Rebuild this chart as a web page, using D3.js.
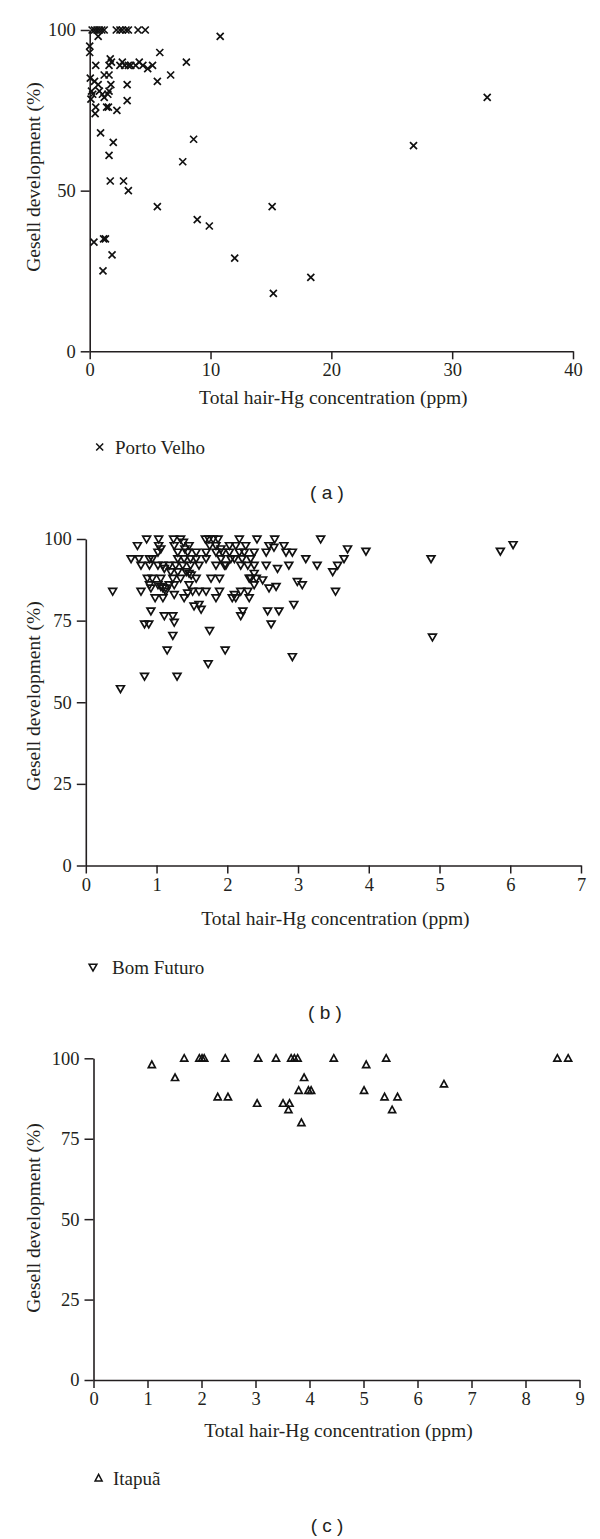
<!DOCTYPE html>
<html><head><meta charset="utf-8">
<script src="https://cdn.jsdelivr.net/npm/d3@7"></script>
<style>
html,body{margin:0;padding:0;background:#fff;}
svg{display:block;}
</style></head>
<body>
<svg id="chart" width="600" height="1539"></svg>
<script>
// ---------- data ----------
const portoVelho = [
 [0.2,100],[0.4,100],[0.6,100],[0.8,100],[1.0,100],[1.2,100],[2.2,100],[2.5,100],[2.7,100],[3.0,100],[3.2,100],[4.0,100],[4.6,100],
 [0.7,98],[10.8,98],[0,95],[0,93],[5.8,93],
 [1.7,91],[1.8,90],[1.6,89],[0.5,89],
 [2.5,89],[2.7,90],[2.9,89],[3.2,89],[3.4,89],[3.8,89],[4.1,90],[4.4,89],[4.8,88],[5.2,89],
 [8.0,90],[6.7,86],[5.6,84],
 [0.05,85],[0.4,84],[0.7,83],[1.2,86],[1.6,86],[1.75,83],[3.1,83],[0.15,81],[0.8,81],[1.05,80],[1.2,79],[1.5,80],[1.6,81],[0.25,80],[0.1,78.5],[3.1,78],[0.5,76],[1.4,76],[1.55,76],[2.25,75],[0.45,74],
 [0.9,68],[1.95,65],[1.6,61],[8.6,66],[7.7,59],[26.8,64],[32.9,79],[1.7,53],[2.8,53],[3.2,50],[5.6,45],[15.1,45],[8.9,41],[9.9,39],
 [0.35,34],[1.15,35],[1.3,35],[1.85,30],[12.0,29],[1.1,25],[18.3,23],[15.2,18]
];
const bomFuturo = [
 [0.86,100],[1.03,100],[1.24,100],[1.34,100],[1.38,99],[1.69,100],[1.74,100],[1.80,100],[1.87,100],[2.17,100],[2.42,100],[2.67,100],[3.32,100],
 [0.73,98],[1.03,98],[1.06,97],[1.25,98],[1.4,97],[1.46,98],[1.75,98],[1.84,98],[1.91,97],[2.03,98],[2.12,98],[2.26,98],[2.59,98],[2.66,97.5],[2.8,98],[3.7,97],[3.96,96.3],[5.86,96.3],[6.04,98.3],
 [1.02,96],[1.3,96],[1.44,96],[1.56,96],[1.7,96],[1.84,96],[1.93,96],[2.03,96],[2.17,96],[2.24,96],[2.38,96],[2.55,96],[2.83,96],[2.92,96],
 [0.64,94],[0.75,94],[0.9,94],[0.94,94],[1.3,94],[1.39,94],[1.48,94],[1.56,94],[1.7,94],[1.91,94],[2.05,94],[2.1,94],[2.21,94],[2.33,94],[3.11,94],[3.65,94],[4.88,94],
 [1.96,92],[2.29,92],[0.78,92],[0.9,92],[1.02,92],[1.09,92],[1.18,92],[1.27,92],[1.37,92],[1.48,92],[1.6,92],[1.84,92],[1.98,92],[2.19,92],[2.38,92],[2.55,92],[2.87,92],[3.27,92],[3.56,92],[2.71,91],
 [1.11,91],[1.2,90],[1.3,90],[1.42,90],[1.49,89],[1.46,89.5],[2.38,89.5],[3.49,90],
 [0.87,88],[0.94,88],[1.06,88],[1.23,88],[1.34,88],[1.56,88],[1.77,88],[1.89,88],[2.31,88],[2.33,88],[2.41,88],[2.5,87.5],[2.99,87],
 [0.9,86],[1.02,86],[1.06,85.5],[1.09,85],[1.18,86],[1.25,86],[1.46,86],[0.92,85],[1.13,85],[2.38,86],[2.69,85.5],[2.59,85],[3.06,86],
 [0.38,84],[0.78,84],[1.13,84],[1.25,83],[1.44,83.5],[1.51,84],[1.6,84],[1.7,84],[1.89,84],[2.1,83],[2.19,84],[2.29,84],[3.53,84],
 [0.98,82],[1.09,82],[1.39,82],[1.84,82],[2.07,82],[2.12,82],[2.31,82],
 [1.53,79.5],[1.6,80],[1.63,78.5],[2.94,80],
 [0.92,78],[2.22,78],[2.19,76.5],[2.57,78],[2.73,78],
 [1.11,76.5],[1.23,76.5],[1.25,74.5],[0.83,74],[0.89,74],[2.62,74],[1.23,70.5],[1.75,72],[4.9,70],
 [1.15,66],[1.97,66],[2.92,64],[1.73,61.8],[0.83,58],[1.29,58],[0.49,54.2]
];
const itapua = [
 [1.08,98],[1.68,100],[1.96,100],[2.01,100],[2.05,100],[2.44,100],[3.05,100],[3.38,100],[3.66,100],[3.72,100],[3.78,100],[4.45,100],
 [1.51,94],[2.3,88],[2.49,88],[3.03,86],[3.51,86],[3.63,86],[3.61,84],[3.9,94],[3.8,90],[3.98,90],[4.03,90],[3.85,80],
 [5.05,98],[5.42,100],[5.01,90],[5.39,88],[5.63,88],[5.53,84],[6.49,92],[8.59,100],[8.79,100]
];
const seriesNames = ["Porto Velho","Bom Futuro","Itapuã"];
const captions = ["( a )","( b )","( c )"];
const xTicksA = [0,10,20,30,40];
const xTicksB = [0,1,2,3,4,5,6,7];
const xTicksC = [0,1,2,3,4,5,6,7,8,9];
const yTicksA = [0,50,100];
const yTicksBC = [0,25,50,75,100];
const xTitle = "Total hair-Hg concentration (ppm)";
const yTitle = "Gesell development (%)";

// ---------- layout ----------
const svg = d3.select("#chart");
const SERIF = "'Liberation Serif','Times New Roman',serif";
const SANS = "'Liberation Sans',Arial,sans-serif";
const INK = "#231f20";

const markers = {
  cross: "M-3.5,-3.5L3.5,3.5M-3.5,3.5L3.5,-3.5",
  down: "M-3.9,-2.8L3.9,-2.8L0,3.9Z",
  up: "M-3.5,2.9L3.5,2.9L0,-3.6Z"
};

const panels = [
  {data: portoVelho, name: seriesNames[0], cap: captions[0], xDom:[0,40], xTicks:xTicksA, yTicks:yTicksA,
   xr:[89.7,573], yr:[351.3,30], yTitleY:177, xTitleY:397, legY:447, legMX:99.7, legTX:115, capY:492, capX:327, mk:"cross"},
  {data: bomFuturo, name: seriesNames[1], cap: captions[1], xDom:[0,7], xTicks:xTicksB, yTicks:yTicksBC,
   xr:[85.8,581], yr:[865.5,539], yTitleY:696, xTitleY:918, legY:967, legMX:93, legTX:112, capY:1012, capX:325, mk:"down"},
  {data: itapua, name: seriesNames[2], cap: captions[2], xDom:[0,9], xTicks:xTicksC, yTicks:yTicksBC,
   xr:[93.5,579.5], yr:[1380,1058.3], yTitleY:1218, xTitleY:1430, legY:1478, legMX:98.6, legTX:113, capY:1525, capX:327, mk:"up"}
];

panels.forEach(p => {
  const x = d3.scaleLinear().domain(p.xDom).range(p.xr);
  const y = d3.scaleLinear().domain([0,100]).range(p.yr);
  const g = svg.append("g");

  const xAxis = g.append("g").attr("transform",`translate(0,${p.yr[0]})`)
    .call(d3.axisBottom(x).tickValues(p.xTicks).tickSize(8).tickSizeOuter(0).tickPadding(4).tickFormat(d3.format("d")));
  const yAxis = g.append("g").attr("transform",`translate(${p.xr[0]},0)`)
    .call(d3.axisLeft(y).tickValues(p.yTicks).tickSize(9).tickSizeOuter(0).tickPadding(5).tickFormat(d3.format("d")));
  [xAxis,yAxis].forEach(a => {
    a.select(".domain").attr("stroke",INK).attr("stroke-width",1.6);
    a.selectAll(".tick line").attr("stroke",INK).attr("stroke-width",1.5);
    a.selectAll(".tick text").attr("fill",INK).style("font-family",SERIF).style("font-size","18.5px");
  });

  // axis titles
  g.append("text").attr("x",(p.xr[0]+p.xr[1])/2+2).attr("y",p.xTitleY).attr("dy","0.35em")
    .attr("text-anchor","middle").attr("fill",INK).style("font-family",SERIF).style("font-size","19.5px").text(xTitle);
  g.append("text").attr("transform",`translate(33,${p.yTitleY}) rotate(-90)`).attr("dy","0.35em")
    .attr("text-anchor","middle").attr("fill",INK).style("font-family",SERIF).style("font-size","19.5px").text(yTitle);

  // points
  g.append("g").selectAll("path").data(p.data).join("path")
    .attr("transform",d=>`translate(${x(d[0])},${y(d[1])})`)
    .attr("d",markers[p.mk]).attr("fill","none").attr("stroke","#111").attr("stroke-width",1.7);

  // legend
  g.append("path").attr("transform",`translate(${p.legMX},${p.legY})`).attr("d",markers[p.mk])
    .attr("fill","none").attr("stroke","#111").attr("stroke-width",1.5);
  g.append("text").attr("x",p.legTX).attr("y",p.legY).attr("dy","0.35em").attr("fill",INK)
    .style("font-family",SERIF).style("font-size","19px").text(p.name);

  // caption
  g.append("text").attr("x",p.capX).attr("y",p.capY).attr("dy","0.35em").attr("text-anchor","middle")
    .attr("fill",INK).style("font-family",SANS).style("font-size","19px").text(p.cap);
});
</script>
</body></html>
